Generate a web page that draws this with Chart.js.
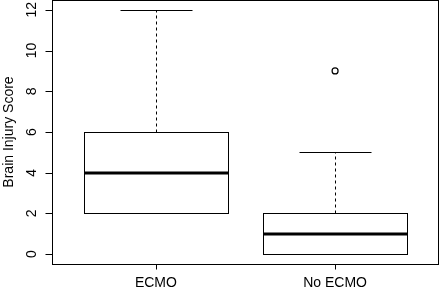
<!DOCTYPE html>
<html>
<head>
<meta charset="utf-8">
<script src="https://cdn.jsdelivr.net/npm/chart.js@4/dist/chart.umd.min.js"></script>
<style>
html,body{margin:0;padding:0;background:#fff;}
#wrap{width:440px;height:288px;position:relative;}
</style>
</head>
<body>
<div id="wrap"><canvas id="c" width="440" height="288"></canvas></div>
<script>
const categories = ['ECMO', 'No ECMO'];
const whiskerLow = [2, 0];
const q1 = [2, 0];
const medians = [4, 1];
const q3 = [6, 2];
const whiskerHigh = [12, 5];
const outliers = [[], [9]];
const yTicks = [0, 2, 4, 6, 8, 10, 12];
const yTitle = 'Brain Injury Score';

const FONT = '14px "Liberation Sans", Arial, sans-serif';
const INK = '#000';

const outlierPoints = [];
outliers.forEach((arr, i) => arr.forEach(v => outlierPoints.push({x: i + 1, y: v})));

const crisp = v => Math.round(v) + 0.5;

const boxPlugin = {
  id: 'boxplot',
  beforeDatasetsDraw(chart) {
    const ctx = chart.ctx, xs = chart.scales.x, ys = chart.scales.y;
    ctx.save();
    ctx.strokeStyle = INK;
    categories.forEach((c, i) => {
      const pos = i + 1;
      const xc = crisp(xs.getPixelForValue(pos));
      const xl = crisp(xs.getPixelForValue(pos - 0.4));
      const xr = crisp(xs.getPixelForValue(pos + 0.4));
      const sl = crisp(xs.getPixelForValue(pos - 0.2));
      const sr = crisp(xs.getPixelForValue(pos + 0.2));
      const yq1 = crisp(ys.getPixelForValue(q1[i]));
      const yq3 = crisp(ys.getPixelForValue(q3[i]));
      const ym = Math.round(ys.getPixelForValue(medians[i]));
      const ylo = crisp(ys.getPixelForValue(whiskerLow[i]));
      const yhi = crisp(ys.getPixelForValue(whiskerHigh[i]));
      ctx.lineWidth = 1;
      ctx.setLineDash([3, 3]);
      ctx.beginPath();
      ctx.moveTo(xc, yq3); ctx.lineTo(xc, yhi);
      ctx.moveTo(xc, yq1); ctx.lineTo(xc, ylo);
      ctx.stroke();
      ctx.setLineDash([]);
      ctx.beginPath();
      ctx.moveTo(sl, yhi); ctx.lineTo(sr, yhi);
      ctx.moveTo(sl, ylo); ctx.lineTo(sr, ylo);
      ctx.stroke();
      ctx.fillStyle = '#fff';
      ctx.fillRect(xl, yq3, xr - xl, yq1 - yq3);
      ctx.strokeRect(xl, yq3, xr - xl, yq1 - yq3);
      ctx.lineWidth = 3;
      ctx.beginPath();
      ctx.moveTo(xl, ym); ctx.lineTo(xr, ym);
      ctx.stroke();
    });
    ctx.restore();
  },
  afterDraw(chart) {
    const ctx = chart.ctx, xs = chart.scales.x, ys = chart.scales.y;
    const a = chart.chartArea;
    ctx.save();
    ctx.strokeStyle = INK;
    ctx.lineWidth = 1;
    const L = crisp(a.left), R = crisp(a.right - 1), T = crisp(a.top), B = crisp(a.bottom);
    ctx.strokeRect(L, T, R - L, B - T);
    ctx.beginPath();
    yTicks.forEach(t => {
      const y = crisp(ys.getPixelForValue(t));
      ctx.moveTo(L, y); ctx.lineTo(L - 7, y);
    });
    categories.forEach((c, i) => {
      const x = crisp(xs.getPixelForValue(i + 1));
      ctx.moveTo(x, B); ctx.lineTo(x, B + 5);
    });
    ctx.stroke();
    ctx.fillStyle = INK;
    ctx.font = FONT;
    yTicks.forEach(t => {
      const y = ys.getPixelForValue(t);
      ctx.save();
      ctx.translate(36, y);
      ctx.rotate(-Math.PI / 2);
      ctx.textAlign = 'center';
      ctx.textBaseline = 'alphabetic';
      ctx.fillText(String(t), 0, 0);
      ctx.restore();
    });
    ctx.save();
    ctx.translate(13, (a.top + a.bottom) / 2);
    ctx.rotate(-Math.PI / 2);
    ctx.textAlign = 'center';
    ctx.textBaseline = 'alphabetic';
    ctx.fillText(yTitle, 0, 0);
    ctx.restore();
    ctx.textAlign = 'center';
    ctx.textBaseline = 'alphabetic';
    categories.forEach((c, i) => {
      ctx.fillText(c, xs.getPixelForValue(i + 1), 287);
    });
    ctx.restore();
  }
};

new Chart(document.getElementById('c'), {
  type: 'scatter',
  data: {
    datasets: [{
      data: outlierPoints,
      pointStyle: 'circle',
      pointRadius: 3,
      pointBorderWidth: 1.2,
      borderColor: INK,
      backgroundColor: '#fff',
      pointHoverRadius: 3
    }]
  },
  options: {
    responsive: false,
    animation: false,
    devicePixelRatio: 1,
    layout: {autoPadding: false, padding: {left: 52, right: 1, top: 0, bottom: 24}},
    plugins: {legend: {display: false}, tooltip: {enabled: false}},
    scales: {
      x: {type: 'linear', display: false, min: 0.42, max: 2.58},
      y: {type: 'linear', display: false, min: -0.48, max: 12.48}
    }
  },
  plugins: [boxPlugin]
});
</script>
</body>
</html>
